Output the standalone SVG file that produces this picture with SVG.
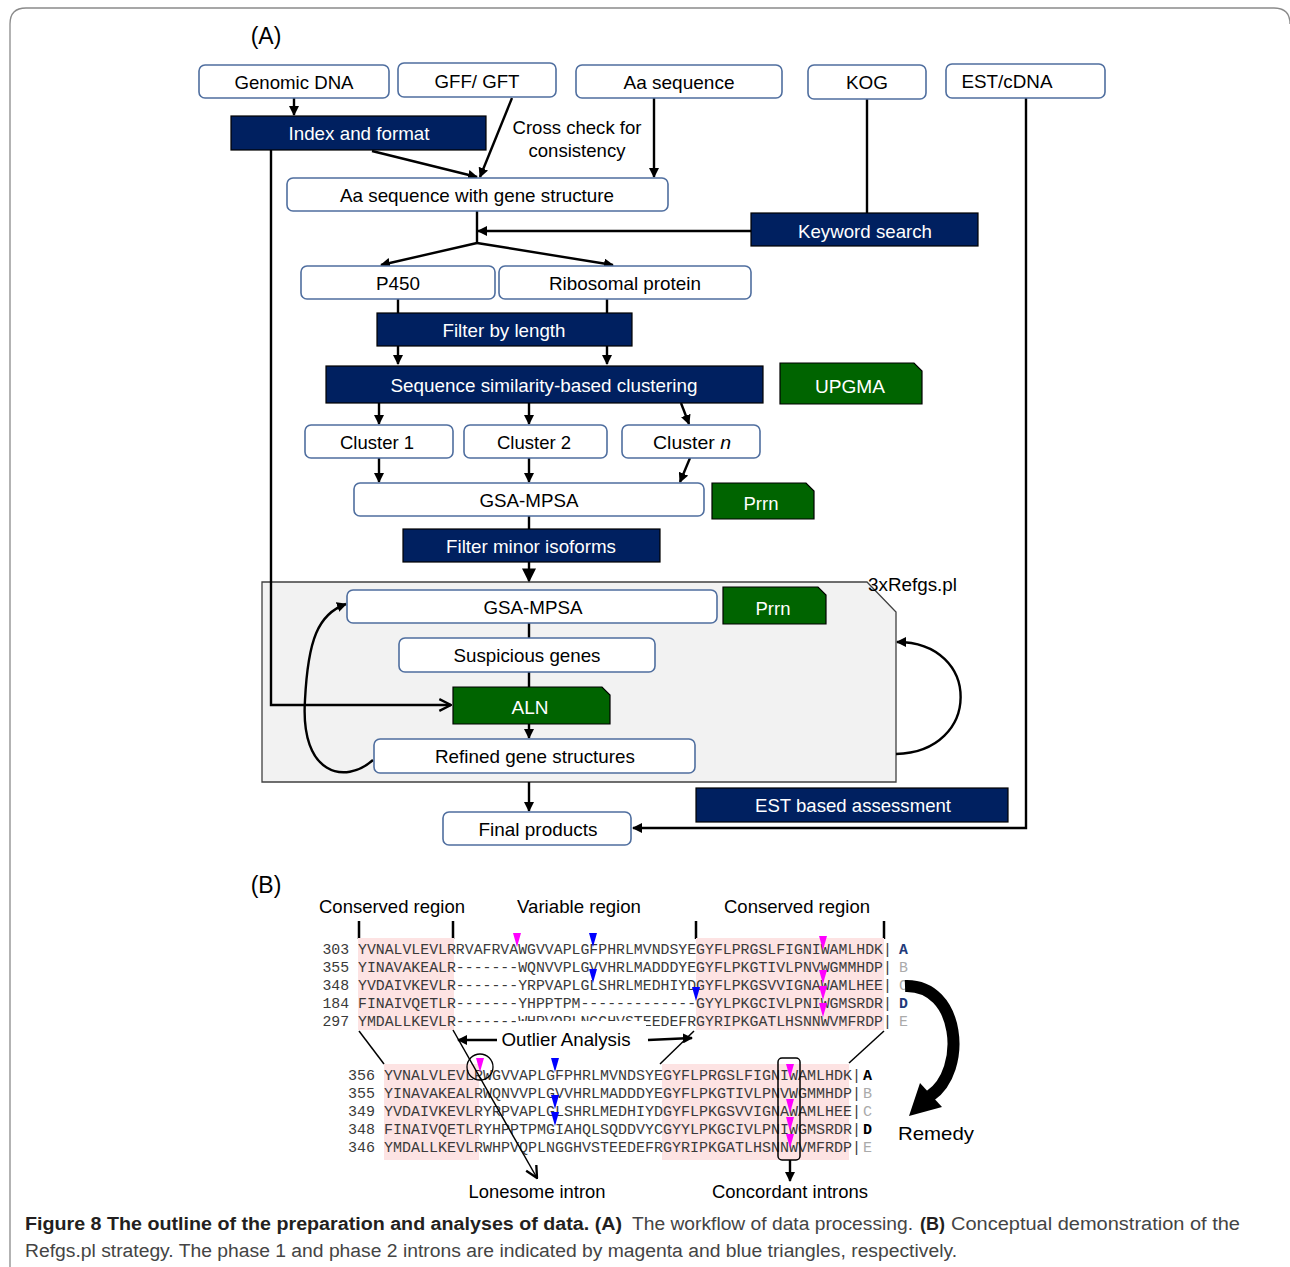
<svg xmlns="http://www.w3.org/2000/svg" width="1290" height="1267" viewBox="0 0 1290 1267">
<style>
.wb{fill:#fff;stroke:#4f6e9f;stroke-width:1.6}
.nb{fill:#002060;stroke:#000;stroke-width:1.2}
.gb{fill:#006400;stroke:#000;stroke-width:1.2}
.t{font-family:"Liberation Sans",Arial,sans-serif;font-size:19px;fill:#000;text-anchor:middle}
.tw{font-family:"Liberation Sans",Arial,sans-serif;font-size:19px;fill:#fff;text-anchor:middle}
.c{fill:none;stroke:#000;stroke-width:2.4}
.thin{fill:none;stroke:#000;stroke-width:1.5}
.seq{font-family:"Liberation Mono","Courier New",monospace;fill:#3a3a3a}
.lab{font-family:"Liberation Mono","Courier New",monospace;font-weight:bold}
.mg{fill:#ff00ff}
.bl{fill:#0000ff}
.pink{fill:#fde3e3}
.cap{font-family:"Liberation Sans",Arial,sans-serif;font-size:18px;fill:#444}
.capb{font-family:"Liberation Sans",Arial,sans-serif;font-size:18px;font-weight:bold;fill:#231f20}
</style>
<defs>
<marker id="ah" viewBox="0 0 10 10" refX="9" refY="5" markerWidth="10" markerHeight="10" markerUnits="userSpaceOnUse" orient="auto"><path d="M0,0 L10,5 L0,10 z" fill="#000"/></marker>
<marker id="ahL" viewBox="0 0 10 10" refX="9" refY="5" markerWidth="16" markerHeight="14" markerUnits="userSpaceOnUse" orient="auto"><path d="M0,0 L10,5 L0,10 z" fill="#000"/></marker>
<marker id="aho" viewBox="0 0 12 12" refX="11" refY="6" markerWidth="14" markerHeight="14" markerUnits="userSpaceOnUse" orient="auto"><path d="M1,1 L11,6 L1,11" fill="none" stroke="#000" stroke-width="2"/></marker>
</defs>
<rect width="1290" height="1267" fill="#fff"/>
<path d="M10,1267 V24 Q10,8 26,8 H1274 Q1290,8 1290,24" fill="none" stroke="#8a8a8a" stroke-width="1.3"/>

<text x="266" y="44" font-family="Liberation Sans,Arial,sans-serif" font-size="23" text-anchor="middle">(A)</text>
<text x="266" y="893" font-family="Liberation Sans,Arial,sans-serif" font-size="23" text-anchor="middle">(B)</text>

<!-- gray refinement box -->
<g id="refgs">
<path d="M262,582 H867 L896,612 V782 H262 Z" fill="#f2f2f2" stroke="#404040" stroke-width="1.3"/>
<text x="868" y="591" font-family="Liberation Sans,Arial,sans-serif" font-size="19" textLength="89" lengthAdjust="spacingAndGlyphs">3xRefgs.pl</text>
</g>

<g id="connectors">
<path class="c" d="M294,98 V115" marker-end="url(#ah)"/>
<path class="c" d="M271,150 V705 H451" marker-end="url(#aho)"/>
<path class="c" d="M372,151 L477,177" marker-end="url(#ah)"/>
<path class="c" d="M512,98 L480,177" marker-end="url(#ah)"/>
<path class="c" d="M654,98 V177" marker-end="url(#ah)"/>
<path class="c" d="M477,211 V243"/>
<path class="c" d="M751,231 H478" marker-end="url(#ah)"/>
<path class="c" d="M867,99 V213"/>
<path class="c" d="M477,243 L381,265" marker-end="url(#ah)"/>
<path class="c" d="M477,243 L613,265" marker-end="url(#ah)"/>
<path class="c" d="M398,299 V313"/>
<path class="c" d="M607,299 V313"/>
<path class="c" d="M398,346 V364" marker-end="url(#ah)"/>
<path class="c" d="M607,346 V364" marker-end="url(#ah)"/>
<path class="c" d="M379,403 V424" marker-end="url(#ah)"/>
<path class="c" d="M529,403 V424" marker-end="url(#ah)"/>
<path class="c" d="M681,403 L689,424" marker-end="url(#ah)"/>
<path class="c" d="M379,458 V482" marker-end="url(#ah)"/>
<path class="c" d="M529,458 V482" marker-end="url(#ah)"/>
<path class="c" d="M690,458 L680,482" marker-end="url(#ah)"/>
<path class="c" d="M529,516 V529"/>
<path class="c" d="M529,562 V581" marker-end="url(#ahL)"/>
<path class="c" d="M529,623 V638"/>
<path class="c" d="M529,672 V687"/>
<path class="c" d="M529,724 V738" marker-end="url(#ah)"/>
<path class="c" d="M529,782 V811" marker-end="url(#ah)"/>
<path class="c" d="M1026,98 V828 H633" marker-end="url(#ah)"/>
<path class="c" d="M373,760 C345,785 300,775 305,700 C308,640 318,614 346,604" marker-end="url(#ah)"/>
<path class="c" d="M896,754 C982,752 982,642 897,642" marker-end="url(#ah)"/>
</g>

<g id="genomic"><rect class="wb" x="199" y="65" width="190" height="33" rx="6"/><text class="t" x="294" y="89" textLength="119" lengthAdjust="spacingAndGlyphs">Genomic DNA</text></g>
<g id="gff"><rect class="wb" x="398" y="63" width="158" height="34" rx="6"/><text class="t" x="477" y="88" textLength="85" lengthAdjust="spacingAndGlyphs">GFF/ GFT</text></g>
<g id="aaseq"><rect class="wb" x="576" y="65" width="206" height="33" rx="6"/><text class="t" x="679" y="89" textLength="111" lengthAdjust="spacingAndGlyphs">Aa sequence</text></g>
<g id="kog"><rect class="wb" x="808" y="65" width="118" height="34" rx="6"/><text class="t" x="867" y="89" textLength="42" lengthAdjust="spacingAndGlyphs">KOG</text></g>
<g id="est"><rect class="wb" x="946" y="64" width="159" height="34" rx="6"/><text class="t" x="1007" y="88" textLength="91" lengthAdjust="spacingAndGlyphs">EST/cDNA</text></g>
<g id="index"><rect class="nb" x="231" y="116" width="255" height="34"/><text class="tw" x="359" y="140" textLength="141" lengthAdjust="spacingAndGlyphs">Index and format</text></g>
<g id="crosscheck"><text class="t" x="577" y="134" textLength="129" lengthAdjust="spacingAndGlyphs">Cross check for</text><text class="t" x="577" y="157" textLength="97" lengthAdjust="spacingAndGlyphs">consistency</text></g>
<g id="aags"><rect class="wb" x="287" y="178" width="381" height="33" rx="6"/><text class="t" x="477" y="202" textLength="274" lengthAdjust="spacingAndGlyphs">Aa sequence with gene structure</text></g>
<g id="keyword"><rect class="nb" x="751" y="213" width="227" height="33"/><text class="tw" x="865" y="238" textLength="134" lengthAdjust="spacingAndGlyphs">Keyword search</text></g>
<g id="p450"><rect class="wb" x="301" y="266" width="194" height="33" rx="6"/><text class="t" x="398" y="290" textLength="44" lengthAdjust="spacingAndGlyphs">P450</text></g>
<g id="ribo"><rect class="wb" x="499" y="266" width="252" height="33" rx="6"/><text class="t" x="625" y="290" textLength="152" lengthAdjust="spacingAndGlyphs">Ribosomal protein</text></g>
<g id="filterlen"><rect class="nb" x="377" y="313" width="255" height="33"/><text class="tw" x="504" y="337" textLength="123" lengthAdjust="spacingAndGlyphs">Filter by length</text></g>
<g id="clustering"><rect class="nb" x="326" y="366" width="437" height="37"/><text class="tw" x="544" y="392" textLength="307" lengthAdjust="spacingAndGlyphs">Sequence similarity-based clustering</text></g>
<g id="upgma"><path class="gb" d="M780,363 H914 L922,371 V404 H780 Z"/><text class="tw" x="850" y="393" textLength="70" lengthAdjust="spacingAndGlyphs">UPGMA</text></g>
<g id="cluster1"><rect class="wb" x="305" y="425" width="148" height="33" rx="6"/><text class="t" x="377" y="449" textLength="74" lengthAdjust="spacingAndGlyphs">Cluster 1</text></g>
<g id="cluster2"><rect class="wb" x="464" y="425" width="143" height="33" rx="6"/><text class="t" x="534" y="449" textLength="74" lengthAdjust="spacingAndGlyphs">Cluster 2</text></g>
<g id="clustern"><rect class="wb" x="622" y="425" width="138" height="33" rx="6"/><text class="t" x="692" y="449" textLength="78" lengthAdjust="spacingAndGlyphs">Cluster <tspan font-style="italic">n</tspan></text></g>
<g id="gsa1"><rect class="wb" x="354" y="483" width="350" height="33" rx="6"/><text class="t" x="529" y="507" textLength="99" lengthAdjust="spacingAndGlyphs">GSA-MPSA</text></g>
<g id="prrn1"><path class="gb" d="M712,483 H806 L814,491 V519 H712 Z"/><text class="tw" x="761" y="510" textLength="35" lengthAdjust="spacingAndGlyphs">Prrn</text></g>
<g id="filtermin"><rect class="nb" x="403" y="529" width="257" height="33"/><text class="tw" x="531" y="553" textLength="170" lengthAdjust="spacingAndGlyphs">Filter minor isoforms</text></g>
<g id="gsa2"><rect class="wb" x="347" y="590" width="370" height="33" rx="6"/><text class="t" x="533" y="614" textLength="99" lengthAdjust="spacingAndGlyphs">GSA-MPSA</text></g>
<g id="prrn2"><path class="gb" d="M723,587 H818 L826,595 V624 H723 Z"/><text class="tw" x="773" y="615" textLength="35" lengthAdjust="spacingAndGlyphs">Prrn</text></g>
<g id="suspicious"><rect class="wb" x="399" y="638" width="256" height="34" rx="6"/><text class="t" x="527" y="662" textLength="147" lengthAdjust="spacingAndGlyphs">Suspicious genes</text></g>
<g id="aln"><path class="gb" d="M453,687 H602 L610,695 V724 H453 Z"/><text class="tw" x="530" y="714" textLength="37" lengthAdjust="spacingAndGlyphs">ALN</text></g>
<g id="refined"><rect class="wb" x="374" y="739" width="321" height="34" rx="6"/><text class="t" x="535" y="763" textLength="200" lengthAdjust="spacingAndGlyphs">Refined gene structures</text></g>
<g id="estassess"><rect class="nb" x="696" y="788" width="312" height="34"/><text class="tw" x="853" y="812" textLength="196" lengthAdjust="spacingAndGlyphs">EST based assessment</text></g>
<g id="final"><rect class="wb" x="443" y="812" width="188" height="33" rx="6"/><text class="t" x="538" y="836" textLength="119" lengthAdjust="spacingAndGlyphs">Final products</text></g>

<!-- Part B -->
<g id="partB">
<text class="t" x="392" y="913" textLength="146" lengthAdjust="spacingAndGlyphs">Conserved region</text>
<text class="t" x="579" y="913" textLength="124" lengthAdjust="spacingAndGlyphs">Variable region</text>
<text class="t" x="797" y="913" textLength="146" lengthAdjust="spacingAndGlyphs">Conserved region</text>
<path d="M359,921 V939 M453,921 V939 M696,921 V939 M884,921 V939" stroke="#000" stroke-width="2.5"/>
<rect class="pink" x="358" y="938" width="96" height="92"/>
<rect class="pink" x="696" y="938" width="188" height="92"/>
<rect class="pink" x="384" y="1064" width="95" height="96"/>
<rect class="pink" x="662" y="1064" width="187" height="96"/>
<g class="seq" font-size="14.83">
<text x="322.4" y="954">303 YVNALVLEVLRRVAFRVAWGVVAPLGFPHRLMVNDSYEGYFLPRGSLFIGNIWAMLHDK|</text>
<text x="322.4" y="972">355 YINAVAKEALR-------WQNVVPLGVVHRLMADDDYEGYFLPKGTIVLPNVWGMMHDP|</text>
<text x="322.4" y="990">348 YVDAIVKEVLR-------YRPVAPLGLSHRLMEDHIYDGYFLPKGSVVIGNAWAMLHEE|</text>
<text x="322.4" y="1008">184 FINAIVQETLR-------YHPPTPM-------------GYYLPKGCIVLPNIWGMSRDR|</text>
<text x="322.4" y="1026">297 YMDALLKEVLR-------WHPVQPLNGGHVSTEEDEFRGYRIPKGATLHSNNWVMFRDP|</text>
</g>
<g class="lab" font-size="14.8">
<text x="899" y="954" fill="#1f3b7a">A</text>
<text x="899" y="972" fill="#aaaaaa" font-weight="normal">B</text>
<text x="899" y="990" fill="#aaaaaa" font-weight="normal">C</text>
<text x="899" y="1008" fill="#1f3b7a">D</text>
<text x="899" y="1026" fill="#aaaaaa" font-weight="normal">E</text>
</g>
<g class="seq" font-size="15">
<text x="348" y="1080">356 YVNALVLEVLRWGVVAPLGFPHRLMVNDSYEGYFLPRGSLFIGNIWAMLHDK|</text>
<text x="348" y="1098">355 YINAVAKEALRWQNVVPLGVVHRLMADDDYEGYFLPKGTIVLPNVWGMMHDP|</text>
<text x="348" y="1116">349 YVDAIVKEVLRYRPVAPLGLSHRLMEDHIYDGYFLPKGSVVIGNAWAMLHEE|</text>
<text x="348" y="1134">348 FINAIVQETLRYHPPTPMGIAHQLSQDDVYCGYYLPKGCIVLPNIWGMSRDR|</text>
<text x="348" y="1152">346 YMDALLKEVLRWHPVQPLNGGHVSTEEDEFRGYRIPKGATLHSNNWVMFRDP|</text>
</g>
<g class="lab" font-size="15">
<text x="863" y="1080" fill="#000">A</text>
<text x="863" y="1098" fill="#aaaaaa" font-weight="normal">B</text>
<text x="863" y="1116" fill="#aaaaaa" font-weight="normal">C</text>
<text x="863" y="1134" fill="#000">D</text>
<text x="863" y="1152" fill="#aaaaaa" font-weight="normal">E</text>
</g>
<rect x="516" y="1021" width="130" height="36" fill="#fff"/>
<!-- triangles top -->
<polygon class="mg" points="513,933 521,933 517,947"/>
<polygon class="bl" points="589,933 597,933 593,947"/>
<polygon class="bl" points="589,969 597,969 593,983"/>
<polygon class="bl" points="692,987 700,987 696,1001"/>
<polygon class="mg" points="819,936 827,936 823,950"/>
<polygon class="mg" points="819,970 827,970 823,984"/>
<polygon class="mg" points="819,986 827,986 823,1000"/>
<polygon class="mg" points="819,1003 827,1003 823,1017"/>
<!-- triangles bottom -->
<polygon class="mg" points="476,1058 484,1058 480,1072"/>
<polygon class="bl" points="551,1058 559,1058 555,1072"/>
<polygon class="bl" points="551,1095 559,1095 555,1109"/>
<polygon class="bl" points="551,1112 559,1112 555,1126"/>
<polygon class="mg" points="786,1064 794,1064 790,1078"/>
<polygon class="mg" points="786,1099 794,1099 790,1113"/>
<polygon class="mg" points="786,1117 794,1117 790,1131"/>
<polygon class="mg" points="786,1134 794,1134 790,1148"/>
<circle cx="480" cy="1067" r="13" fill="none" stroke="#000" stroke-width="1.3"/>
<rect x="778" y="1058" width="22" height="102" rx="4" fill="none" stroke="#000" stroke-width="1.5"/>
<text class="t" x="566" y="1046" textLength="129" lengthAdjust="spacingAndGlyphs">Outlier Analysis</text>
<text class="t" x="537" y="1198" textLength="137" lengthAdjust="spacingAndGlyphs">Lonesome intron</text>
<text class="t" x="790" y="1198" textLength="156" lengthAdjust="spacingAndGlyphs">Concordant introns</text>
<text class="t" x="936" y="1140" textLength="76" lengthAdjust="spacingAndGlyphs">Remedy</text>
</g>
<g id="partB-connectors">
<path class="thin" d="M359,1031 L384,1064"/>
<path class="thin" d="M694,1031 L660,1064"/>
<path class="thin" d="M884,1031 L849,1063"/>
<path class="thin" d="M453,1030 L537,1178" marker-end="url(#aho)"/>
<path class="c" d="M497,1040 H458" marker-end="url(#ah)" stroke-width="2"/>
<path class="c" d="M648,1040 L692,1038" marker-end="url(#ah)" stroke-width="2"/>
<path class="c" d="M790,1160 V1181" marker-end="url(#ah)" stroke-width="2"/>
<path d="M905,986 C960,984 968,1070 930,1096" fill="none" stroke="#000" stroke-width="12"/>
<polygon points="909,1116 920,1083 942,1107" fill="#000"/>
</g>

<g id="caption">
<text class="capb" x="25" y="1230" textLength="597" lengthAdjust="spacingAndGlyphs">Figure 8 The outline of the preparation and analyses of data. (A)</text>
<text class="cap" x="632" y="1230" textLength="281" lengthAdjust="spacingAndGlyphs">The workflow of data processing.</text>
<text class="capb" x="920" y="1230" textLength="25" lengthAdjust="spacingAndGlyphs">(B)</text>
<text class="cap" x="951" y="1230" textLength="289" lengthAdjust="spacingAndGlyphs">Conceptual demonstration of the</text>
<text class="cap" x="25" y="1257" textLength="932" lengthAdjust="spacingAndGlyphs">Refgs.pl strategy. The phase 1 and phase 2 introns are indicated by magenta and blue triangles, respectively.</text>
</g>
</svg>
